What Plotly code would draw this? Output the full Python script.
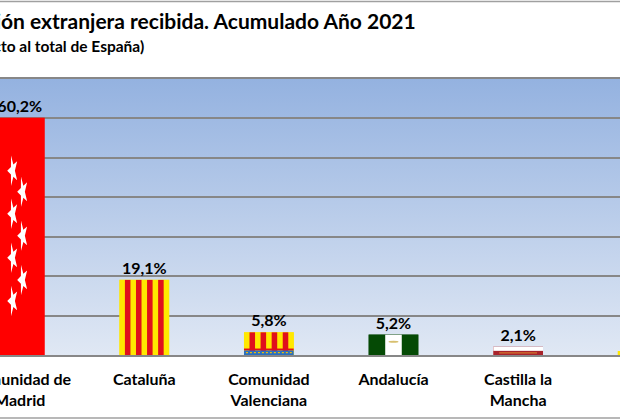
import base64
import math
import plotly.graph_objects as go

# ---------------- data ----------------
categories = ["Comunidad de<br>Madrid", "Cataluña", "Comunidad<br>Valenciana",
              "Andalucía", "Castilla la<br>Mancha", "Aragón"]
values = [60.2, 19.1, 5.8, 5.2, 2.1, 1.0]
title_text = "Inversión extranjera recibida. Acumulado Año 2021"
subtitle_text = "(% respecto al total de España)"
base_colors = ["#FF0000", "#FFE600", "#FFE600", "#0A4A0A", "#B0222A", "#FFE600"]

FONT = "Lato"
GRID = "#878787"


def svg_uri(w, h, body):
    svg = (f'<svg xmlns="http://www.w3.org/2000/svg" width="{w}" height="{h}" '
           f'viewBox="0 0 {w} {h}" preserveAspectRatio="none">{body}</svg>')
    return "data:image/svg+xml;base64," + base64.b64encode(svg.encode()).decode()


def star(cx, cy, rx, ry, inner=0.4):
    pts = []
    for k in range(10):
        a = math.pi + k * math.pi / 5
        f = 1.0 if k % 2 == 0 else inner
        pts.append(f"{cx + rx * f * math.cos(a):.2f},{cy + ry * f * math.sin(a):.2f}")
    return f'<polygon points="{" ".join(pts)}" fill="#FFFFFF"/>'


def stripes(w, h, n, c1, c2):
    sw = w / n
    body = f'<rect x="0" y="0" width="{w}" height="{h}" fill="{c1}"/>'
    for i in range(1, n, 2):
        body += f'<rect x="{i * sw:.3f}" y="0" width="{sw:.3f}" height="{h}" fill="{c2}"/>'
    return body


YEL = "#FFE800"
RED = "#E0101C"

# Madrid flag (red with seven white stars, rotated)
mad = '<rect x="0" y="0" width="50" height="237" fill="#FF0000"/>'
for i, cy in enumerate([53, 74, 96, 118, 140, 162, 183]):
    cx = 18 if i % 2 == 0 else 28
    mad += star(cx, cy, 5.5, 16)
# Catalonia
cat = stripes(50, 75, 9, YEL, RED)
# Valencia
val = stripes(50, 23, 9, YEL, RED)
val += '<rect x="0" y="16.5" width="50" height="2" fill="#E0101C"/>'
val += '<rect x="0" y="18.5" width="50" height="4.5" fill="#2A6FC0"/>'
for i in range(12):
    val += f'<rect x="{2 + i * 4}" y="20" width="2" height="1.2" fill="#F2C100"/>'
# Andalucia
anda = ('<rect x="0" y="0" width="50" height="20" fill="#054A05"/>'
        '<rect x="16.7" y="0" width="16.6" height="20" fill="#FFFFFF"/>'
        '<ellipse cx="25" cy="7" rx="5" ry="1.0" fill="#D8C070"/>')
# Castilla-La Mancha
clm = ('<rect x="0" y="0" width="50" height="8" fill="#FFFFFF"/>'
       '<rect x="0" y="4" width="50" height="4" fill="#A8232B"/>'
       '<rect x="6" y="5.6" width="38" height="0.8" fill="#E8A030"/>')
# Aragon
ara = stripes(50, 4, 9, YEL, RED)

flags = [svg_uri(50, 237, mad), svg_uri(50, 75, cat), svg_uri(50, 23, val),
         svg_uri(50, 20, anda), svg_uri(50, 8, clm), svg_uri(50, 4, ara)]

# background gradient
grad = svg_uri(10, 100,
               '<defs><linearGradient id="g" x1="0" y1="0" x2="0" y2="1">'
               '<stop offset="0" stop-color="#94B2E0"/>'
               '<stop offset="1" stop-color="#E0E8F4"/></linearGradient></defs>'
               '<rect x="0" y="0" width="10" height="100" fill="url(#g)"/>')

xs = list(range(len(categories)))
labels = [f"{v:.1f}%".replace(".", ",") for v in values]
BAR_W = 0.4

fig = go.Figure()
fig.add_trace(go.Bar(
    x=xs, y=values, width=BAR_W,
    marker=dict(color=base_colors, line=dict(width=0)),
    text=labels, textposition="outside",
    textfont=dict(family=FONT, size=16, color="#000000", weight="bold"),
    hoverinfo="skip",
))

images = [dict(source=grad, xref="paper", yref="paper", x=0, y=1, sizex=1, sizey=1,
               xanchor="left", yanchor="top", sizing="stretch", layer="below")]
for xi, v, src in zip(xs, values, flags):
    images.append(dict(source=src, xref="x", yref="y", x=xi - BAR_W / 2, y=v,
                       sizex=BAR_W, sizey=v, xanchor="left", yanchor="top",
                       sizing="stretch", layer="above"))

W, H = 620, 420
M_T, M_B = 79, 65
PH = H - M_T - M_B


def py(pix):
    return (H - M_B - pix) / PH


fig.update_layout(
    width=W, height=H,
    margin=dict(l=0, r=0, t=M_T, b=M_B, pad=0, autoexpand=False),
    paper_bgcolor="#FFFFFF", plot_bgcolor="rgba(0,0,0,0)",
    showlegend=False,
    images=images,
    xaxis=dict(range=[-0.158, -0.158 + 620 / 124.6], tickvals=xs, ticktext=categories,
               showgrid=False, zeroline=False, showline=True, mirror=True,
               linecolor=GRID, linewidth=1.5, ticks="", ticklabelstandoff=9,
               ticklabeloverflow="allow", automargin=False,
               tickfont=dict(family=FONT, size=16, color="#000000", weight="bold")),
    yaxis=dict(range=[0, 70], dtick=10, showgrid=True, gridcolor=GRID, gridwidth=1.5,
               showticklabels=False, zeroline=False, ticks="", automargin=False),
    annotations=[
        dict(text=title_text, xref="paper", yref="paper", x=418 / W, y=py(21),
             xanchor="right", yanchor="middle", showarrow=False,
             font=dict(family=FONT, size=21, color="#000000", weight="bold")),
        dict(text=subtitle_text, xref="paper", yref="paper", x=146 / W, y=py(46),
             xanchor="right", yanchor="middle", showarrow=False,
             font=dict(family=FONT, size=15.5, color="#000000", weight="bold")),
    ],
    shapes=[
        dict(type="line", xref="paper", yref="paper", x0=0, x1=1, y0=py(1.5), y1=py(1.5),
             line=dict(color="#A0A0A0", width=1.5)),
        dict(type="line", xref="paper", yref="paper", x0=0, x1=1, y0=py(418), y1=py(418),
             line=dict(color="#A0A0A0", width=1.5)),
    ],
)

fig.write_html(
    "out.html",
    config={"displayModeBar": False},
    post_script="document.body.style.margin='0';document.body.style.overflow='hidden';",
)
